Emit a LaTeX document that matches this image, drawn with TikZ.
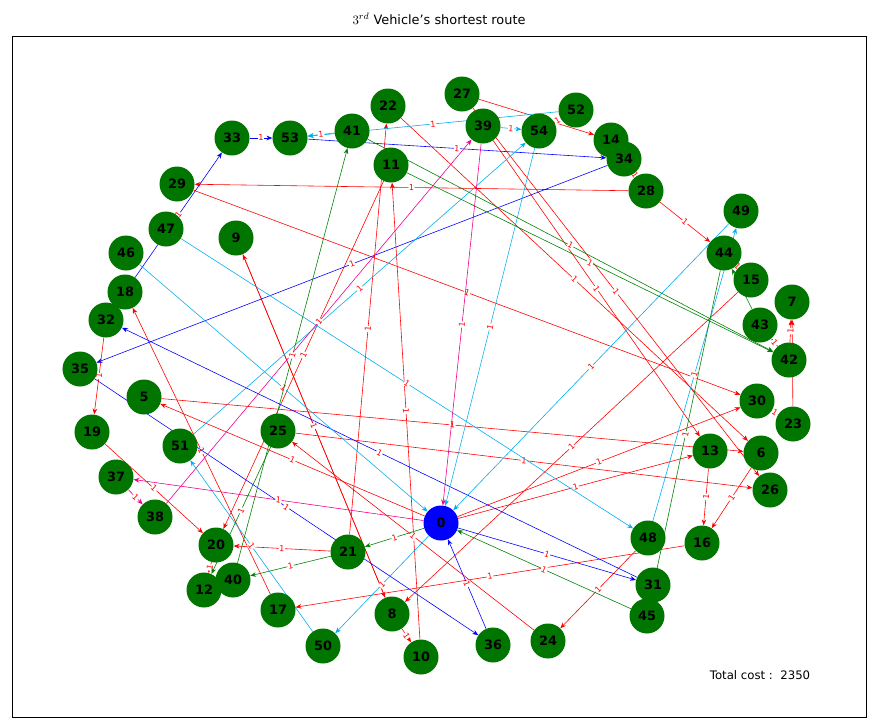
\documentclass[tikz,border=0pt]{standalone}
\usepackage{fontspec}
\setmainfont{DejaVu Sans}
\usetikzlibrary{arrows.meta, backgrounds}

\tikzset{
  vert/.style={circle, fill=green!40!black!90!green, minimum size=1.05cm, inner sep=0pt, font=\bfseries\fontsize{11}{11}\selectfont},
  depot/.style={vert, fill=blue},
  route/.style={-{Stealth[length=5pt,width=4pt]}, line width=0.5pt},
  cost/.style={fill=white, inner sep=0.5pt, text=red, font=\fontsize{7}{7}\selectfont, sloped}
}

\begin{document}
\begin{tikzpicture}[x=0.03cm, y=-0.03cm]
    \useasboundingbox (0,0) rectangle (882,726);
    \draw[line width=0.5pt] (12,36) rectangle (866,717);
    \node (title) at (439,19) {\fontsize{11}{11}\selectfont $3^{rd}$ Vehicle's shortest route};
    \node (total) at (760,675) {\fontsize{10}{10}\selectfont Total cost :\ \ 2350};

    % customers
    \foreach \n/\x/\y in {22/388/106, 27/462/94, 52/576/110, 39/483/126, 54/539/131,
                          41/352/131, 53/290/138, 33/232/138, 14/611/140, 34/624/159,
                          11/391/165, 29/177/184, 28/646/191, 49/741/211, 47/166/229,
                          9/236/238, 46/126/253, 44/724/253, 15/751/280, 18/125/292,
                          7/792/302, 32/106/320, 43/760/325, 42/789/360, 35/80/369,
                          5/144/397, 30/757/401, 23/793/424, 25/278/431, 19/92/432,
                          51/180/446, 13/710/451, 6/761/453, 37/116/477, 26/770/490,
                          38/155/517, 48/648/538, 16/702/543, 20/216/545, 21/348/552,
                          12/204/590, 40/233/580, 31/653/585, 17/278/610, 45/647/616,
                          8/392/614, 24/548/641, 36/493/645, 50/323/646, 10/421/657}
        \node[vert] (\n) at (\x,\y) {\n};
    \node[depot] (0) at (441,523) {0};

    % routes of the vehicle
    \begin{scope}[on background layer]
    \foreach \a/\b in {0/5, 5/6, 25/26, 0/13, 13/16, 16/17, 17/18, 21/22, 22/6, 27/26,
                       28/29, 29/30, 30/23, 23/7, 42/7, 15/8, 8/9, 9/8, 8/10, 10/11,
                       19/20, 20/12, 32/19, 21/20, 48/24, 24/25, 34/28, 28/44, 44/15,
                       0/30, 39/13, 6/16, 11/20, 27/14}
        \draw[route, red] (\a) -- node[cost] {1} (\b);
    \foreach \a/\b in {0/31, 31/32, 32/18, 18/33, 33/53, 53/34, 34/35, 35/36, 36/0}
        \draw[route, blue] (\a) -- node[cost] {1} (\b);
    \foreach \a/\b in {0/50, 50/51, 51/54, 39/54, 54/52, 52/53, 41/53, 54/0, 46/0,
                       47/48, 48/49, 49/0}
        \draw[route, cyan] (\a) -- node[cost] {1} (\b);
    \foreach \a/\b in {0/37, 37/38, 38/39, 39/0}
        \draw[route, magenta] (\a) -- node[cost] {1} (\b);
    \foreach \a/\b in {0/21, 21/40, 25/12, 40/41, 41/42, 11/42, 42/43, 43/44, 44/45, 45/0}
        \draw[route, green!50!black] (\a) -- node[cost] {1} (\b);
    \end{scope}
\end{tikzpicture}
\end{document}
